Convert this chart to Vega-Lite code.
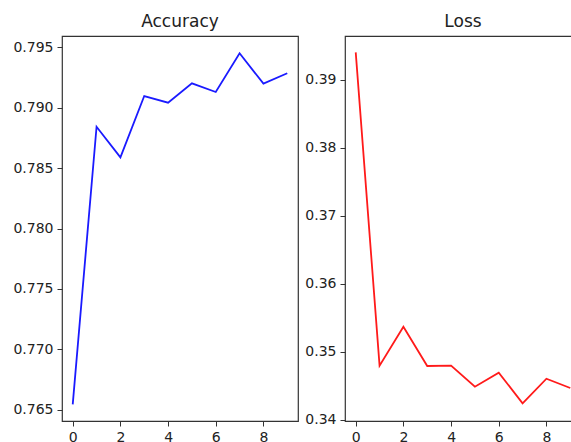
{
  "$schema": "https://vega.github.io/schema/vega-lite/v6.json",
  "padding": {"left": 12, "top": 12, "right": 0, "bottom": 0},
  "background": "white",
  "datasets": {
    "acc": [
      {"epoch": 0, "value": 0.76547},
      {"epoch": 1, "value": 0.78841},
      {"epoch": 2, "value": 0.78588},
      {"epoch": 3, "value": 0.79095},
      {"epoch": 4, "value": 0.79040},
      {"epoch": 5, "value": 0.79200},
      {"epoch": 6, "value": 0.79128},
      {"epoch": 7, "value": 0.79448},
      {"epoch": 8, "value": 0.79197},
      {"epoch": 9, "value": 0.79283}
    ],
    "loss": [
      {"epoch": 0, "value": 0.39407},
      {"epoch": 1, "value": 0.34799},
      {"epoch": 2, "value": 0.35372},
      {"epoch": 3, "value": 0.34794},
      {"epoch": 4, "value": 0.34800},
      {"epoch": 5, "value": 0.34490},
      {"epoch": 6, "value": 0.34696},
      {"epoch": 7, "value": 0.34245},
      {"epoch": 8, "value": 0.34607},
      {"epoch": 9, "value": 0.34470}
    ]
  },
  "spacing": 47,
  "bounds": "flush",
  "hconcat": [
    {
      "title": "Accuracy",
      "width": 236,
      "height": 385,
      "data": {"name": "acc"},
      "mark": {"type": "line", "color": "#1a1aff", "strokeWidth": 1.8},
      "encoding": {
        "x": {"field": "epoch", "type": "quantitative",
              "scale": {"domain": [-0.45, 9.45], "nice": false, "zero": false},
              "axis": {"values": [0, 2, 4, 6, 8], "format": "d", "title": null}},
        "y": {"field": "value", "type": "quantitative",
              "scale": {"domain": [0.76409, 0.79591], "nice": false, "zero": false},
              "axis": {"values": [0.765, 0.770, 0.775, 0.780, 0.785, 0.790, 0.795], "format": ".3f", "title": null}}
      }
    },
    {
      "title": "Loss",
      "width": 236,
      "height": 385,
      "data": {"name": "loss"},
      "mark": {"type": "line", "color": "#ff1a1a", "strokeWidth": 1.8},
      "encoding": {
        "x": {"field": "epoch", "type": "quantitative",
              "scale": {"domain": [-0.45, 9.45], "nice": false, "zero": false},
              "axis": {"values": [0, 2, 4, 6, 8], "format": "d", "title": null}},
        "y": {"field": "value", "type": "quantitative",
              "scale": {"domain": [0.33985, 0.39647], "nice": false, "zero": false},
              "axis": {"values": [0.34, 0.35, 0.36, 0.37, 0.38, 0.39], "format": ".2f", "title": null}}
      }
    }
  ],
  "config": {
    "view": {"stroke": "#333333", "strokeWidth": 1.2},
    "axis": {
      "domain": false,
      "grid": false,
      "labelFont": "DejaVu Sans",
      "labelFontSize": 14,
      "labelColor": "#222222",
      "tickColor": "#333333",
      "tickSize": 5,
      "tickWidth": 1,
      "labelPadding": 4
    },
    "title": {
      "font": "DejaVu Sans",
      "fontSize": 17,
      "fontWeight": "normal",
      "color": "#222222",
      "anchor": "middle",
      "offset": 5
    }
  }
}
